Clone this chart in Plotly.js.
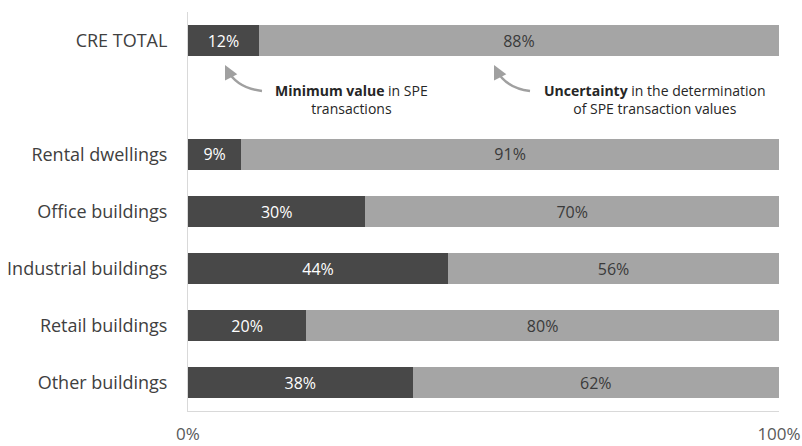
<!DOCTYPE html>
<html>
<head>
<meta charset="utf-8">
<script src="https://cdn.plot.ly/plotly-3.0.1.min.js"></script>
<style>html,body{margin:0;padding:0;background:#fff}#chart{width:802px;height:446px}</style>
</head>
<body>
<div id="chart"></div>
<script>
var categories = ["CRE TOTAL", "Rental dwellings", "Office buildings", "Industrial buildings", "Retail buildings", "Other buildings"];
var minimumValues = [12, 9, 30, 44, 20, 38];
var uncertaintyValues = [88, 91, 70, 56, 80, 62];
var yPositions = [6, 4, 3, 2, 1, 0];
var xTickVals = [0, 100];
var xTickText = ["0%", "100%"];

var FONT = "'Open Sans', 'Noto Sans', sans-serif";

var traces = [
  {
    type: "bar", orientation: "h", name: "Minimum value",
    x: minimumValues, y: yPositions, width: 0.55,
    marker: {color: "#484848", line: {width: 0}},
    text: minimumValues.map(function(v){return v + "%";}),
    textposition: "inside", insidetextanchor: "middle", textangle: 0,
    insidetextfont: {family: FONT, size: 16, color: "#ffffff"},
    hoverinfo: "skip"
  },
  {
    type: "bar", orientation: "h", name: "Uncertainty",
    x: uncertaintyValues, y: yPositions, width: 0.55,
    marker: {color: "#a5a5a5", line: {width: 0}},
    text: uncertaintyValues.map(function(v){return v + "%";}),
    textposition: "inside", insidetextanchor: "middle", textangle: 0,
    insidetextfont: {family: FONT, size: 16, color: "#3a3a3a"},
    hoverinfo: "skip"
  }
];

var ARROW = "#a0a0a0";

var layout = {
  width: 802, height: 446,
  margin: {l: 188, r: 23, t: 12, b: 35},
  barmode: "stack",
  showlegend: false,
  paper_bgcolor: "#ffffff", plot_bgcolor: "#ffffff",
  font: {family: FONT, color: "#404040"},
  xaxis: {
    range: [0, 100], tickvals: xTickVals, ticktext: xTickText,
    showgrid: false, zeroline: false, showline: true, linecolor: "#d9d9d9", linewidth: 1,
    ticks: "", ticklabelstandoff: 8,
    tickfont: {family: FONT, size: 17, color: "#595959"}, fixedrange: true
  },
  yaxis: {
    range: [-0.5, 6.5], tickvals: yPositions, ticktext: categories,
    showgrid: false, zeroline: false, showline: true, linecolor: "#d9d9d9", linewidth: 1,
    ticks: "", ticklabelstandoff: 16,
    tickfont: {family: FONT, size: 18, color: "#404040"}, fixedrange: true
  },
  shapes: [
    {type: "path", xref: "x", yref: "y", path: "M 12.52,5.114 Q 8.21,5.167 6.63,5.491", line: {color: ARROW, width: 2.5}},
    {type: "path", xref: "x", yref: "y", path: "M 57.87,5.114 Q 53.72,5.167 52.15,5.491", line: {color: ARROW, width: 2.5}}
  ],
  annotations: [
    {xref: "x", yref: "y", x: 6.26, y: 5.570, ax: 5, ay: 10,
     showarrow: true, arrowhead: 2, arrowsize: 1.1, arrowwidth: 2.5, arrowcolor: ARROW, standoff: 0, text: ""},
    {xref: "x", yref: "y", x: 51.78, y: 5.570, ax: 5, ay: 10,
     showarrow: true, arrowhead: 2, arrowsize: 1.1, arrowwidth: 2.5, arrowcolor: ARROW, standoff: 0, text: ""},
    {xref: "x", yref: "y", x: 27.6, y: 4.97, showarrow: false, align: "center",
     text: "<b>Minimum value</b> in SPE<br>transactions",
     font: {family: FONT, size: 14, color: "#262626"}},
    {xref: "x", yref: "y", x: 79.1, y: 4.97, showarrow: false, align: "center",
     text: "<b>Uncertainty</b> in the determination<br>of SPE transaction values",
     font: {family: FONT, size: 14, color: "#262626"}}
  ]
};

Plotly.newPlot("chart", traces, layout, {staticPlot: true, displayModeBar: false});
</script>
</body>
</html>
